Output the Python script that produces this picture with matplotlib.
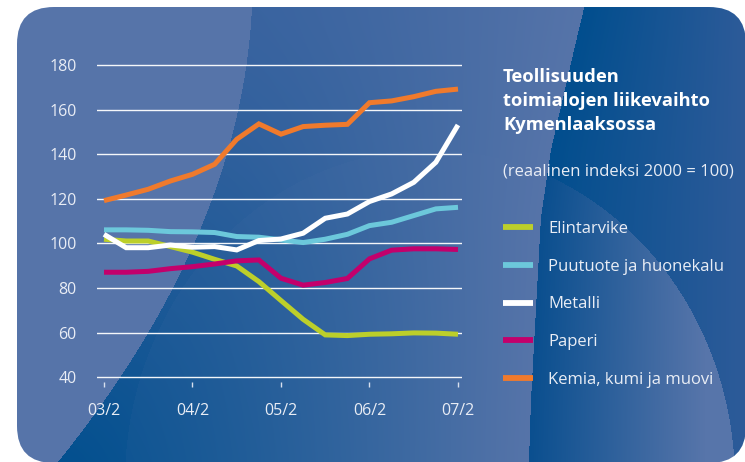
import numpy as np
import matplotlib
matplotlib.use("Agg")
import matplotlib.pyplot as plt
from matplotlib.patches import FancyBboxPatch
from matplotlib.lines import Line2D

# ---------------- data ----------------
quarters = ['03/2', '03/3', '03/4', '04/1', '04/2', '04/3', '04/4', '05/1', '05/2',
            '05/3', '05/4', '06/1', '06/2', '06/3', '06/4', '07/1', '07/2']
tick_labels = ['03/2', '04/2', '05/2', '06/2', '07/2']
series_names = ['Elintarvike', 'Puutuote ja huonekalu', 'Metalli', 'Paperi',
                'Kemia, kumi ja muovi']
elintarvike = [101.9, 101.1, 101.1, 98.6, 96.1, 92.9, 89.9, 82.9, 74.4, 66.0,
               59.0, 58.7, 59.3, 59.5, 59.9, 59.8, 59.3]
puutuote = [106.1, 106.1, 105.9, 105.3, 105.2, 104.9, 103.1, 102.8, 101.6, 100.4,
            101.9, 104.1, 108.0, 109.5, 112.5, 115.5, 116.2]
metalli = [104.1, 98.1, 98.1, 99.3, 98.3, 98.6, 97.1, 101.3, 102.0, 104.6,
           111.3, 113.2, 118.8, 122.2, 127.4, 136.4, 153.1]
paperi = [87.1, 87.1, 87.5, 88.7, 89.6, 90.8, 92.2, 92.6, 84.4, 81.3,
          82.5, 84.3, 93.1, 97.0, 97.6, 97.6, 97.3]
kemia = [119.2, 121.7, 124.3, 128.0, 131.0, 135.5, 146.7, 153.6, 149.0, 152.4,
         153.0, 153.4, 163.1, 163.9, 165.8, 168.2, 169.2]
y_ticks = [40, 60, 80, 100, 120, 140, 160, 180]
title_text = "Teollisuuden\ntoimialojen liikevaihto\nKymenlaaksossa"
subtitle_text = "(reaalinen indeksi 2000 = 100)"

series_values = [elintarvike, puutuote, metalli, paperi, kemia]
colors = ['#bccf2a', '#6cc8db', '#ffffff', '#c3006c', '#f07a2c']

FONT = ['Open Sans', 'DejaVu Sans']
plt.rcParams['font.family'] = FONT

W, H = 745, 462
fig = plt.figure(figsize=(W / 100, H / 100), dpi=100)
fig.patch.set_facecolor('white')

# ---------------- decorative background ----------------
def rgb(h):
    h = h.lstrip('#')
    return np.array([int(h[i:i + 2], 16) / 255 for i in (0, 2, 4)])

def lerp(a, b, t):
    t = np.clip(t, 0, 1)[..., None]
    return a * (1 - t) + b * t

yy, xx = np.mgrid[0:H, 0:W] + 0.5
xL = 252.3 - 0.0361 * yy - 0.000832 * yy ** 2
xR = np.interp(yy, [0, 50, 150, 217, 400, 462], [586, 574, 551, 541, 531, 529])
ell = ((xx - 430) / 305) ** 2 + ((yy - 482) / 332) ** 2 < 1

light = rgb('#5674a9')
img = np.zeros((H, W, 3)) + light
s = np.clip((xx - xL) / (xR - xL), 0, 1)
dark_top, dark_bot = rgb('#3a64a0'), rgb('#03508f')
dark_mid = lerp(dark_top, dark_bot, (yy / H) ** 1.4)
mid = dark_mid * (1 - s[..., None] ** 1.3) + light * (s[..., None] ** 1.3)
mid = np.where(ell[..., None], mid * 0.92 + light * 0.08, mid)
m_mask = (xx >= xL) & (xx < xR)
img = np.where(m_mask[..., None], mid, img)
u = np.clip((xx - xR) / (W - xR), 0, 1)
right_out = lerp(rgb('#014e8e'), rgb('#2d5b99'), u)
u2 = np.clip((xx - xR) / (705 - xR), 0, 1)
right_in = lerp(rgb('#0a4f8f'), rgb('#5775aa'), u2)
right = np.where(ell[..., None], right_in, right_out)
img = np.where((xx >= xR)[..., None], right, img)

bg = fig.add_axes([0, 0, 1, 1], zorder=-5)
bg.set_xlim(0, W)
bg.set_ylim(H, 0)
bg.axis('off')
panel = FancyBboxPatch((17, 7), 729, 456, boxstyle="round,pad=0,rounding_size=37",
                       facecolor='none', edgecolor='none', transform=bg.transData)
bg.add_patch(panel)
im = bg.imshow(img, extent=(0, W, H, 0), interpolation='bilinear', aspect='auto')
im.set_clip_path(panel)

# ---------------- main chart ----------------
ylo, yhi = 38, 182
px_per = (377.3 - 65) / 140
top_px = 65 - (yhi - 180) * px_per
bot_px = 377.3 + (40 - ylo) * px_per
ax_left, ax_right = 97, 462
x0_px, step = 104, (458 - 104) / 16
ax = fig.add_axes([ax_left / W, (H - bot_px) / H, (ax_right - ax_left) / W,
                   (bot_px - top_px) / H])
ax.set_facecolor('none')
ax.set_xlim((ax_left - x0_px) / step, (ax_right - x0_px) / step)
ax.set_ylim(ylo, yhi)
for sp in ax.spines.values():
    sp.set_visible(False)

x = np.arange(len(quarters))
for vals, col, name in zip(series_values, colors, series_names):
    ax.plot(x, vals, color=col, lw=3.6, solid_joinstyle='miter',
            solid_capstyle='butt', label=name, zorder=3)

ax.set_yticks(y_ticks)
ax.set_yticklabels([str(v) for v in y_ticks])
ax.yaxis.grid(True, color='white', lw=1.0, alpha=0.95)
ax.set_axisbelow(True)
tick_pos = [quarters.index(t) for t in tick_labels]
ax.set_xticks(tick_pos)
ax.set_xticklabels(tick_labels)
ax.tick_params(axis='y', length=0, pad=14.5, labelsize=11.5, labelcolor='#e9edf5')
ax.tick_params(axis='x', length=3.5, width=1, color='#d8e0ee', direction='out',
               pad=11.5, labelsize=11.5, labelcolor='#e9edf5')

# ---------------- title and legend ----------------
fig.text(503 / W, 1 - 68 / H, title_text, color='white', fontsize=13.2,
         fontweight='bold', va='top', ha='left', linespacing=1.42)
fig.text(503 / W, 1 - 172 / H, subtitle_text, color='#e9edf5', fontsize=12,
         va='center', ha='left')

handles = [Line2D([], [], color=c, lw=4.2, solid_capstyle='butt') for c in colors]
leg = ax.legend(handles, series_names, loc='upper left',
                bbox_to_anchor=(503 / W, 1 - 221 / H), bbox_transform=fig.transFigure,
                frameon=False, fontsize=12, handlelength=1.8, handletextpad=0.9,
                labelspacing=1.3, borderpad=0, borderaxespad=0, labelcolor='#e9edf5')

fig.savefig('out.png', dpi=100, facecolor='white')
